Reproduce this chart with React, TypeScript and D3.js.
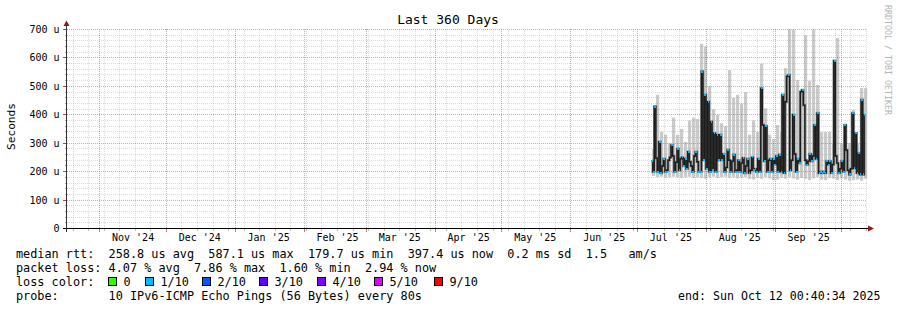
import React from "react";
import * as d3 from "d3";

// ---------- data ----------
const END_TIME = "2025-10-12T00:40:34Z";
const SPAN_DAYS = 360;
const TITLE = "Last 360 Days";
const Y_LABEL = "Seconds";
const WATERMARK = "RRDTOOL / TOBI OETIKER";

const yTickValues = [0, 100, 200, 300, 400, 500, 600, 700];
const yTickLabels = ["0", "100 u", "200 u", "300 u", "400 u", "500 u", "600 u", "700 u"];
const yMinorValues = [20, 40, 60, 80, 120, 140, 160, 180, 220, 240, 260, 280, 320, 340, 360, 380, 420, 440, 460, 480, 520, 540, 560, 580, 620, 640, 660, 680];

// median RTT (microseconds), evenly spaced between first and last sample
const medianFirst = "2025-07-07T12:00:00Z";
const medianLast = "2025-10-11T08:00:00Z";
const medianRtt = [
  237, 200, 429, 247, 200, 305, 195, 220, 245, 200,
  205, 240, 250, 293, 255, 200, 233, 280, 205, 245,
  250, 220, 245, 210, 270, 235, 220, 200, 255, 270,
  235, 200, 200, 552,
  240, 470, 210, 446, 200, 376, 205, 335, 200, 330,
  240, 330, 240, 262, 200, 215, 277, 240, 200, 237,
  260, 200, 205, 240, 200, 230, 248, 195, 220, 245,
  195, 205, 250, 205, 210,
  200, 245, 200, 493, 364, 237, 360, 200, 240, 245,
  200, 245, 225, 255, 200, 260, 200, 470, 195, 446,
  535, 540, 205, 240, 400, 262, 200, 245, 230, 481,
  487, 434, 240, 225, 237,
  262, 237, 255, 364, 245, 406, 195, 200, 195, 200,
  195, 237, 225, 237, 195, 225, 590, 255, 230, 195,
  210, 237, 200, 364, 275, 205, 190, 210, 406, 212,
  335, 195, 265, 190, 453, 190, 400,
];

// smoke (ping spread) buckets
const smokeFirst = "2025-07-07T12:00:00Z";
const smokeBucketHours = 43.2;
const smokeTop = [
  280, 470, 340, 330, 300, 390, 330, 350, 305, 380,
  390, 385, 650, 640, 500, 420, 400, 370, 360, 557,
  460, 470, 440, 480, 330, 380, 340, 580, 423, 330,
  315, 364, 340, 564, 720, 720, 522, 487, 680, 520,
  720, 505, 340, 340, 340, 300, 670, 300, 290, 300,
  417, 300, 494, 494,
];
const smokeLow = [
  185, 180, 182, 178, 180, 182, 180, 178, 180, 182,
  178, 180, 178, 175, 180, 182, 178, 180, 182, 178,
  180, 176, 178, 180, 175, 172, 178, 175, 180, 176,
  170, 172, 178, 175, 180, 176, 172, 178, 175, 170,
  176, 180, 172, 170, 178, 175, 170, 176, 172, 168,
  170, 172, 168, 175,
];

const lossLabels = ["0", "1/10", "2/10", "3/10", "4/10", "5/10", "9/10"];
const lossColors = ["#26ff00", "#00b8ff", "#0059ff", "#5e00ff", "#7e00ff", "#dd00ff", "#ff0000"];
const medianLossColor = "#00b8ff";

const legendRtt = "median rtt:  258.8 us avg  587.1 us max  179.7 us min  397.4 us now  0.2 ms sd  1.5   am/s";
const legendLoss = "packet loss: 4.07 % avg  7.86 % max  1.60 % min  2.94 % now";
const legendLossColor = "loss color:";
const legendProbe = "probe:       10 IPv6-ICMP Echo Pings (56 Bytes) every 80s";
const legendEnd = "end: Sun Oct 12 00:40:34 2025";

// ---------- chart ----------
const FONT = "'DejaVu Sans Mono', monospace";
const GRID_MINOR = "rgba(143,143,143,0.32)";
const GRID_MAJOR = "rgba(222,80,80,0.55)";

export default function App() {
  const end = new Date(END_TIME);
  const start = new Date(end.getTime() - SPAN_DAYS * 86400000);
  const x = d3.scaleUtc().domain([start, end]).range([66.5, 866.5]);
  const y = d3.scaleLinear().domain([0, 700]).range([228.5, 29.5]);
  const crisp = (v: number) => Math.floor(v) + 0.5;

  const months = d3.utcMonth.range(start, end);
  const weeks = d3.utcSunday.range(start, end).filter(
    (w) => !months.some((m) => Math.abs(+m - +w) < 86400000)
  );
  const monthLabels = d3.utcMonth
    .range(d3.utcMonth.floor(start), end)
    .map((m) => d3.utcDay.offset(m, 15))
    .filter((d) => d > start && d < end);
  const fmt = d3.utcFormat("%b '%y");

  const mFirst = +new Date(medianFirst);
  const mLast = +new Date(medianLast);
  const mStep = (mLast - mFirst) / (medianRtt.length - 1);
  const mTimes = medianRtt.map((_, i) => new Date(mFirst + i * mStep));
  const sFirst = +new Date(smokeFirst);
  const bucketMs = smokeBucketHours * 3600000;

  const smokeRects = smokeTop.map((top, b) => {
    const t0 = sFirst + b * bucketMs;
    const x0 = x(new Date(t0));
    const x1 = x(new Date(t0 + bucketMs));
    return { x: x0, w: x1 - x0 - 0.8, y0: y(Math.min(700, top)), y1: y(smokeLow[b]) };
  });

  const line = d3
    .line<number>()
    .x((_, i) => x(mTimes[i]))
    .y((v) => y(v))
    .curve(d3.curveStep);
  const medianPath = line(medianRtt) || "";

  const extremes = medianRtt
    .map((v, i) => {
      const p = i > 0 ? medianRtt[i - 1] : v;
      const n = i < medianRtt.length - 1 ? medianRtt[i + 1] : v;
      const isExt = (v >= p && v >= n) || (v <= p && v <= n);
      return isExt ? i : -1;
    })
    .filter((i) => i >= 0);
  const stepPx = x(new Date(mFirst + mStep)) - x(new Date(mFirst));

  const swatchX = [108.5, 145.5, 202.5, 259.5, 317.5, 374.5, 434.5];
  const pre = { whiteSpace: "pre" as const };

  return (
    <svg
      width={897}
      height={310}
      style={{ position: "absolute", left: 0, top: 0, background: "#fff" }}
    >
      <rect x={0} y={0} width={897} height={310} fill="#fff" />
      {/* title */}
      <text x={448} y={24} textAnchor="middle" fontFamily={FONT} fontSize={13} fill="#000">
        {TITLE}
      </text>
      {/* watermark */}
      <text
        transform="translate(885,5) rotate(90)"
        fontFamily={FONT}
        fontSize={8.3}
        fill="#b4b4b4"
      >
        {WATERMARK}
      </text>
      {/* y label */}
      <text
        transform="translate(14.5,126.5) rotate(-90)"
        textAnchor="middle"
        fontFamily={FONT}
        fontSize={11.2}
        fill="#000"
      >
        {Y_LABEL}
      </text>

      {/* smoke */}
      <g>
        {smokeRects.map((r, i) => (
          <rect key={i} x={r.x} y={r.y0} width={r.w} height={r.y1 - r.y0} fill="#cacaca" />
        ))}
      </g>

      {/* grid */}
      <g shapeRendering="crispEdges" strokeWidth={1} strokeDasharray="1,1">
        {yMinorValues.map((v) => (
          <line key={"hm" + v} x1={67} x2={867} y1={crisp(y(v))} y2={crisp(y(v))} stroke={GRID_MINOR} />
        ))}
        {weeks.map((w) => (
          <line key={"vw" + +w} x1={crisp(x(w))} x2={crisp(x(w))} y1={29} y2={228} stroke={GRID_MINOR} />
        ))}
        {yTickValues.filter((v) => v > 0).map((v) => (
          <line key={"hM" + v} x1={67} x2={867} y1={crisp(y(v))} y2={crisp(y(v))} stroke={GRID_MAJOR} />
        ))}
        {months.map((m) => (
          <line key={"vM" + +m} x1={crisp(x(m))} x2={crisp(x(m))} y1={29} y2={228} stroke={GRID_MAJOR} />
        ))}
      </g>

      {/* median */}
      <path d={medianPath} fill="none" stroke="#8a8a8a" strokeWidth={2.6} />
      <path d={medianPath} fill="none" stroke="#1c1c1c" strokeWidth={1.4} />
      <g shapeRendering="crispEdges">
        {extremes.map((i) => (
          <rect
            key={"c" + i}
            x={x(mTimes[i]) - stepPx / 2}
            y={y(medianRtt[i]) - 1}
            width={stepPx + 0.3}
            height={2}
            fill={medianLossColor}
          />
        ))}
      </g>

      {/* ticks */}
      <g shapeRendering="crispEdges">
        {yTickValues.map((v) => (
          <line key={"yt" + v} x1={63} x2={67} y1={crisp(y(v))} y2={crisp(y(v))} stroke="#c04040" />
        ))}
        {yMinorValues.map((v) => (
          <line key={"ytm" + v} x1={64.5} x2={67} y1={crisp(y(v))} y2={crisp(y(v))} stroke="#aaa" />
        ))}
        {months.map((m) => (
          <line key={"xt" + +m} x1={crisp(x(m))} x2={crisp(x(m))} y1={228} y2={232} stroke="#e07070" />
        ))}
        {weeks.map((w) => (
          <line key={"xtw" + +w} x1={crisp(x(w))} x2={crisp(x(w))} y1={228} y2={231} stroke="#bbb" />
        ))}
      </g>

      {/* axes */}
      <g shapeRendering="crispEdges">
        <line x1={63} x2={869} y1={228.5} y2={228.5} stroke="#000" />
        <line x1={66.5} x2={66.5} y1={232} y2={25} stroke="#333" />
      </g>
      <path d="M868,225.5 L874,228.5 L868,231.5 Z" fill="#8b1a1a" />
      <path d="M63.5,26 L66.5,20.5 L69.5,26 Z" fill="#8b1a1a" />

      {/* y labels */}
      {yTickValues.map((v, i) => (
        <text
          key={"yl" + v}
          x={59.5}
          y={crisp(y(v)) + 3.6}
          textAnchor="end"
          fontFamily={FONT}
          fontSize={10}
          fill="#000"
        >
          {yTickLabels[i]}
        </text>
      ))}
      {/* x labels */}
      {monthLabels.map((d) => (
        <text
          key={"xl" + +d}
          x={x(d)}
          y={241}
          textAnchor="middle"
          fontFamily={FONT}
          fontSize={10}
          fill="#000"
        >
          {fmt(d)}
        </text>
      ))}

      {/* legend */}
      <g fontFamily={FONT} fontSize={11.83} fill="#000">
        <text x={16} y={257.7} xmlSpace="preserve" style={pre}>{legendRtt}</text>
        <text x={16} y={271.8} xmlSpace="preserve" style={pre}>{legendLoss}</text>
        <text x={16} y={286}>{legendLossColor}</text>
        {lossLabels.map((l, i) => (
          <g key={"lc" + i}>
            <rect
              x={swatchX[i]}
              y={277.5}
              width={8}
              height={8}
              fill={lossColors[i]}
              stroke="#000"
              strokeWidth={1}
              shapeRendering="crispEdges"
            />
            <text x={swatchX[i] + 15} y={286}>{l}</text>
          </g>
        ))}
        <text x={16} y={300} xmlSpace="preserve" style={pre}>{legendProbe}</text>
        <text x={880.5} y={300} textAnchor="end" fontSize={11.6}>{legendEnd}</text>
      </g>
    </svg>
  );
}
